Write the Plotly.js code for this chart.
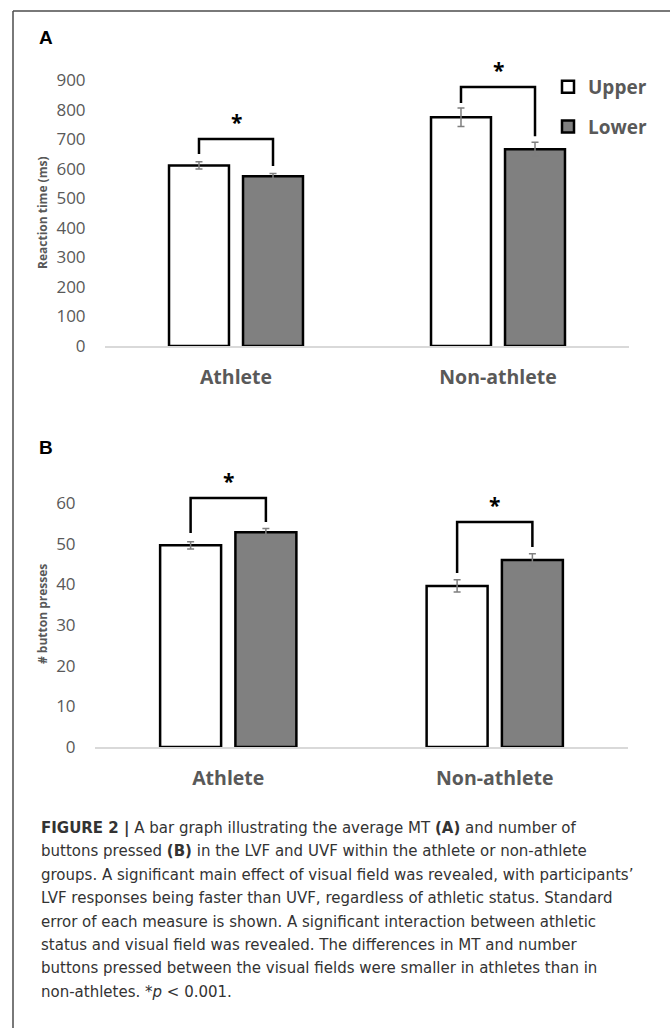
<!DOCTYPE html>
<html>
<head>
<meta charset="utf-8">
<script src="https://cdn.plot.ly/plotly-3.0.1.min.js"></script>
<style>html,body{margin:0;padding:0;background:#fff;}#chart{width:670px;height:1028px;}</style>
</head>
<body>
<div id="chart"></div>
<script>
// ---------- data ----------
const groups = ['Athlete', 'Non-athlete'];
const seriesNames = ['Upper', 'Lower'];
// Panel A: reaction time (ms)
const rtUpper = [611, 774];
const rtLower = [574, 666];
const rtUpperSE = [12, 31];
const rtLowerSE = [10, 23];
const rtTicks = [0, 100, 200, 300, 400, 500, 600, 700, 800, 900];
// Panel B: number of button presses
const bpUpper = [49.6, 39.6];
const bpLower = [52.8, 46.0];
const bpUpperSE = [0.9, 1.5];
const bpLowerSE = [0.9, 1.5];
const bpTicks = [0, 10, 20, 30, 40, 50, 60];
// significance brackets (data units): top, left-leg end, right-leg end
const sigTopA = [700, 876];
const sigLeftA = [650, 822];
const sigRightA = [609, 710];
const sigTopB = [61.2, 55.3];
const sigLeftB = [52.6, 42.8];
const sigRightB = [55.3, 49.2];
const sigLabel = '*';
const captionLines = [
  '<b>FIGURE 2 |</b> A bar graph illustrating the average MT <b>(A)</b> and number of',
  'buttons pressed <b>(B)</b> in the LVF and UVF within the athlete or non-athlete',
  'groups. A significant main effect of visual field was revealed, with participants’',
  'LVF responses being faster than UVF, regardless of athletic status. Standard',
  'error of each measure is shown. A significant interaction between athletic',
  'status and visual field was revealed. The differences in MT and number',
  'buttons pressed between the visual fields were smaller in athletes than in',
  'non-athletes. *<i>p</i> &lt; 0.001.'
];

// ---------- layout helpers ----------
const W = 670, H = 1028;
const px = v => v / W;
const py = v => 1 - v / H;
const grey = '#595959';
const barGap = 0.435;
const slot = (1 - barGap) / 2;     // width of one bar slot (category units)
const legOff = slot / 2;           // bar centre offset from group centre

const errStyle = {type: 'data', color: '#7f7f7f', thickness: 1.5, width: 3.5, visible: true};
const upperMarker = {color: '#ffffff', line: {color: '#000000', width: 2.5}};
const lowerMarker = {color: '#808080', line: {color: '#000000', width: 2.5}};

const traces = [
  {type: 'bar', name: seriesNames[0], x: groups, y: rtUpper, xaxis: 'x', yaxis: 'y',
   error_y: Object.assign({array: rtUpperSE}, errStyle), marker: upperMarker, legendgroup: 'u', hoverinfo: 'skip'},
  {type: 'bar', name: seriesNames[1], x: groups, y: rtLower, xaxis: 'x', yaxis: 'y',
   error_y: Object.assign({array: rtLowerSE}, errStyle), marker: lowerMarker, legendgroup: 'l', hoverinfo: 'skip'},
  {type: 'bar', name: seriesNames[0], x: groups, y: bpUpper, xaxis: 'x2', yaxis: 'y2', showlegend: false,
   error_y: Object.assign({array: bpUpperSE}, errStyle), marker: upperMarker, hoverinfo: 'skip'},
  {type: 'bar', name: seriesNames[1], x: groups, y: bpLower, xaxis: 'x2', yaxis: 'y2', showlegend: false,
   error_y: Object.assign({array: bpLowerSE}, errStyle), marker: lowerMarker, hoverinfo: 'skip'}
];

const shapes = [];
const annotations = [];
function addBrackets(xref, yref, tops, lefts, rights, starFont) {
  for (let i = 0; i < groups.length; i++) {
    const line = {color: '#000000', width: 2.5};
    shapes.push({type: 'path', xref: xref, yref: yref, line: line,
      path: 'M' + (i - legOff) + ',' + lefts[i] + ' L' + (i - legOff) + ',' + tops[i] +
            ' L' + (i + legOff) + ',' + tops[i] + ' L' + (i + legOff) + ',' + rights[i]});
    annotations.push({xref: xref, yref: yref, x: i, y: tops[i], text: sigLabel, showarrow: false,
      xanchor: 'center', yanchor: 'bottom', yshift: 1, font: starFont});
  }
}
const starFont = {family: 'Open Sans', size: 21, color: '#000000', weight: 700};
addBrackets('x', 'y', sigTopA, sigLeftA, sigRightA, starFont);
addBrackets('x2', 'y2', sigTopB, sigLeftB, sigRightB, starFont);

// figure frame
shapes.push({type: 'line', xref: 'paper', yref: 'paper', x0: px(13), x1: px(13), y0: py(11), y1: 0, line: {color: '#4d4d4d', width: 1.5}});
shapes.push({type: 'line', xref: 'paper', yref: 'paper', x0: px(13), x1: 1, y0: py(11), y1: py(11), line: {color: '#4d4d4d', width: 1.5}});

// panel letters
annotations.push({xref: 'paper', yref: 'paper', x: px(37), y: py(38), xanchor: 'left', yanchor: 'middle', showarrow: false,
  text: '<b>A</b>', font: {family: 'Liberation Sans', size: 19, color: '#000'}});
annotations.push({xref: 'paper', yref: 'paper', x: px(37), y: py(447), xanchor: 'left', yanchor: 'middle', showarrow: false,
  text: '<b>B</b>', font: {family: 'Liberation Sans', size: 19, color: '#000'}});
// axis titles (vertical)
annotations.push({xref: 'paper', yref: 'paper', x: px(42), y: py(213), xanchor: 'center', yanchor: 'middle', showarrow: false, textangle: -90,
  text: '<b>Reaction time (ms)</b>', font: {family: 'Open Sans', size: 12, color: grey}});
annotations.push({xref: 'paper', yref: 'paper', x: px(42), y: py(614), xanchor: 'center', yanchor: 'middle', showarrow: false, textangle: -90,
  text: '<b># button presses</b>', font: {family: 'Open Sans', size: 12, color: grey}});
// caption
captionLines.forEach((t, i) => {
  annotations.push({xref: 'paper', yref: 'paper', x: px(39), y: py(828 + 23.4 * i), xanchor: 'left', yanchor: 'middle',
    showarrow: false, align: 'left', text: t, font: {family: 'DejaVu Sans', size: 15, color: '#333333'}});
});

const tickFont = {family: 'Open Sans', size: 17, color: grey};
const catFont = {family: 'Open Sans', size: 19.5, color: grey, weight: 700};
function xAxis(domain, anchor) {
  return {domain: domain, anchor: anchor, type: 'category', range: [-0.5, 1.5], showgrid: false, zeroline: false,
    showline: true, linecolor: '#d9d9d9', linewidth: 2, ticks: 'outside', ticklen: 13, tickcolor: 'rgba(0,0,0,0)',
    tickfont: catFont, fixedrange: true};
}
function yAxis(domain, anchor, range, ticks) {
  return {domain: domain, anchor: anchor, range: range, tickvals: ticks, ticktext: ticks.map(String), showgrid: false,
    zeroline: false, showline: false, ticks: 'outside', ticklen: 15, tickcolor: 'rgba(0,0,0,0)', tickfont: tickFont, fixedrange: true};
}

const layout = {
  width: W, height: H, margin: {l: 0, r: 0, t: 0, b: 0}, paper_bgcolor: '#fff', plot_bgcolor: 'rgba(0,0,0,0)',
  barmode: 'group', bargap: barGap, bargroupgap: 0.19, showlegend: true,
  xaxis: xAxis([px(105), px(629)], 'y'),
  yaxis: yAxis([py(346), py(346 - 950 * (266 / 900))], 'x', [0, 950], rtTicks),
  xaxis2: xAxis([px(95), px(628)], 'y2'),
  yaxis2: yAxis([py(747), py(747 - 70 * (244 / 60))], 'x2', [0, 70], bpTicks),
  legend: {x: px(548), y: py(68), xanchor: 'left', yanchor: 'top', bgcolor: 'rgba(0,0,0,0)', borderwidth: 0,
    traceorder: 'grouped', tracegroupgap: 12, font: {family: 'Open Sans', size: 19, color: grey, weight: 700}},
  shapes: shapes, annotations: annotations, hovermode: false
};

Plotly.newPlot('chart', traces, layout, {displayModeBar: false, staticPlot: true});
</script>
</body>
</html>
